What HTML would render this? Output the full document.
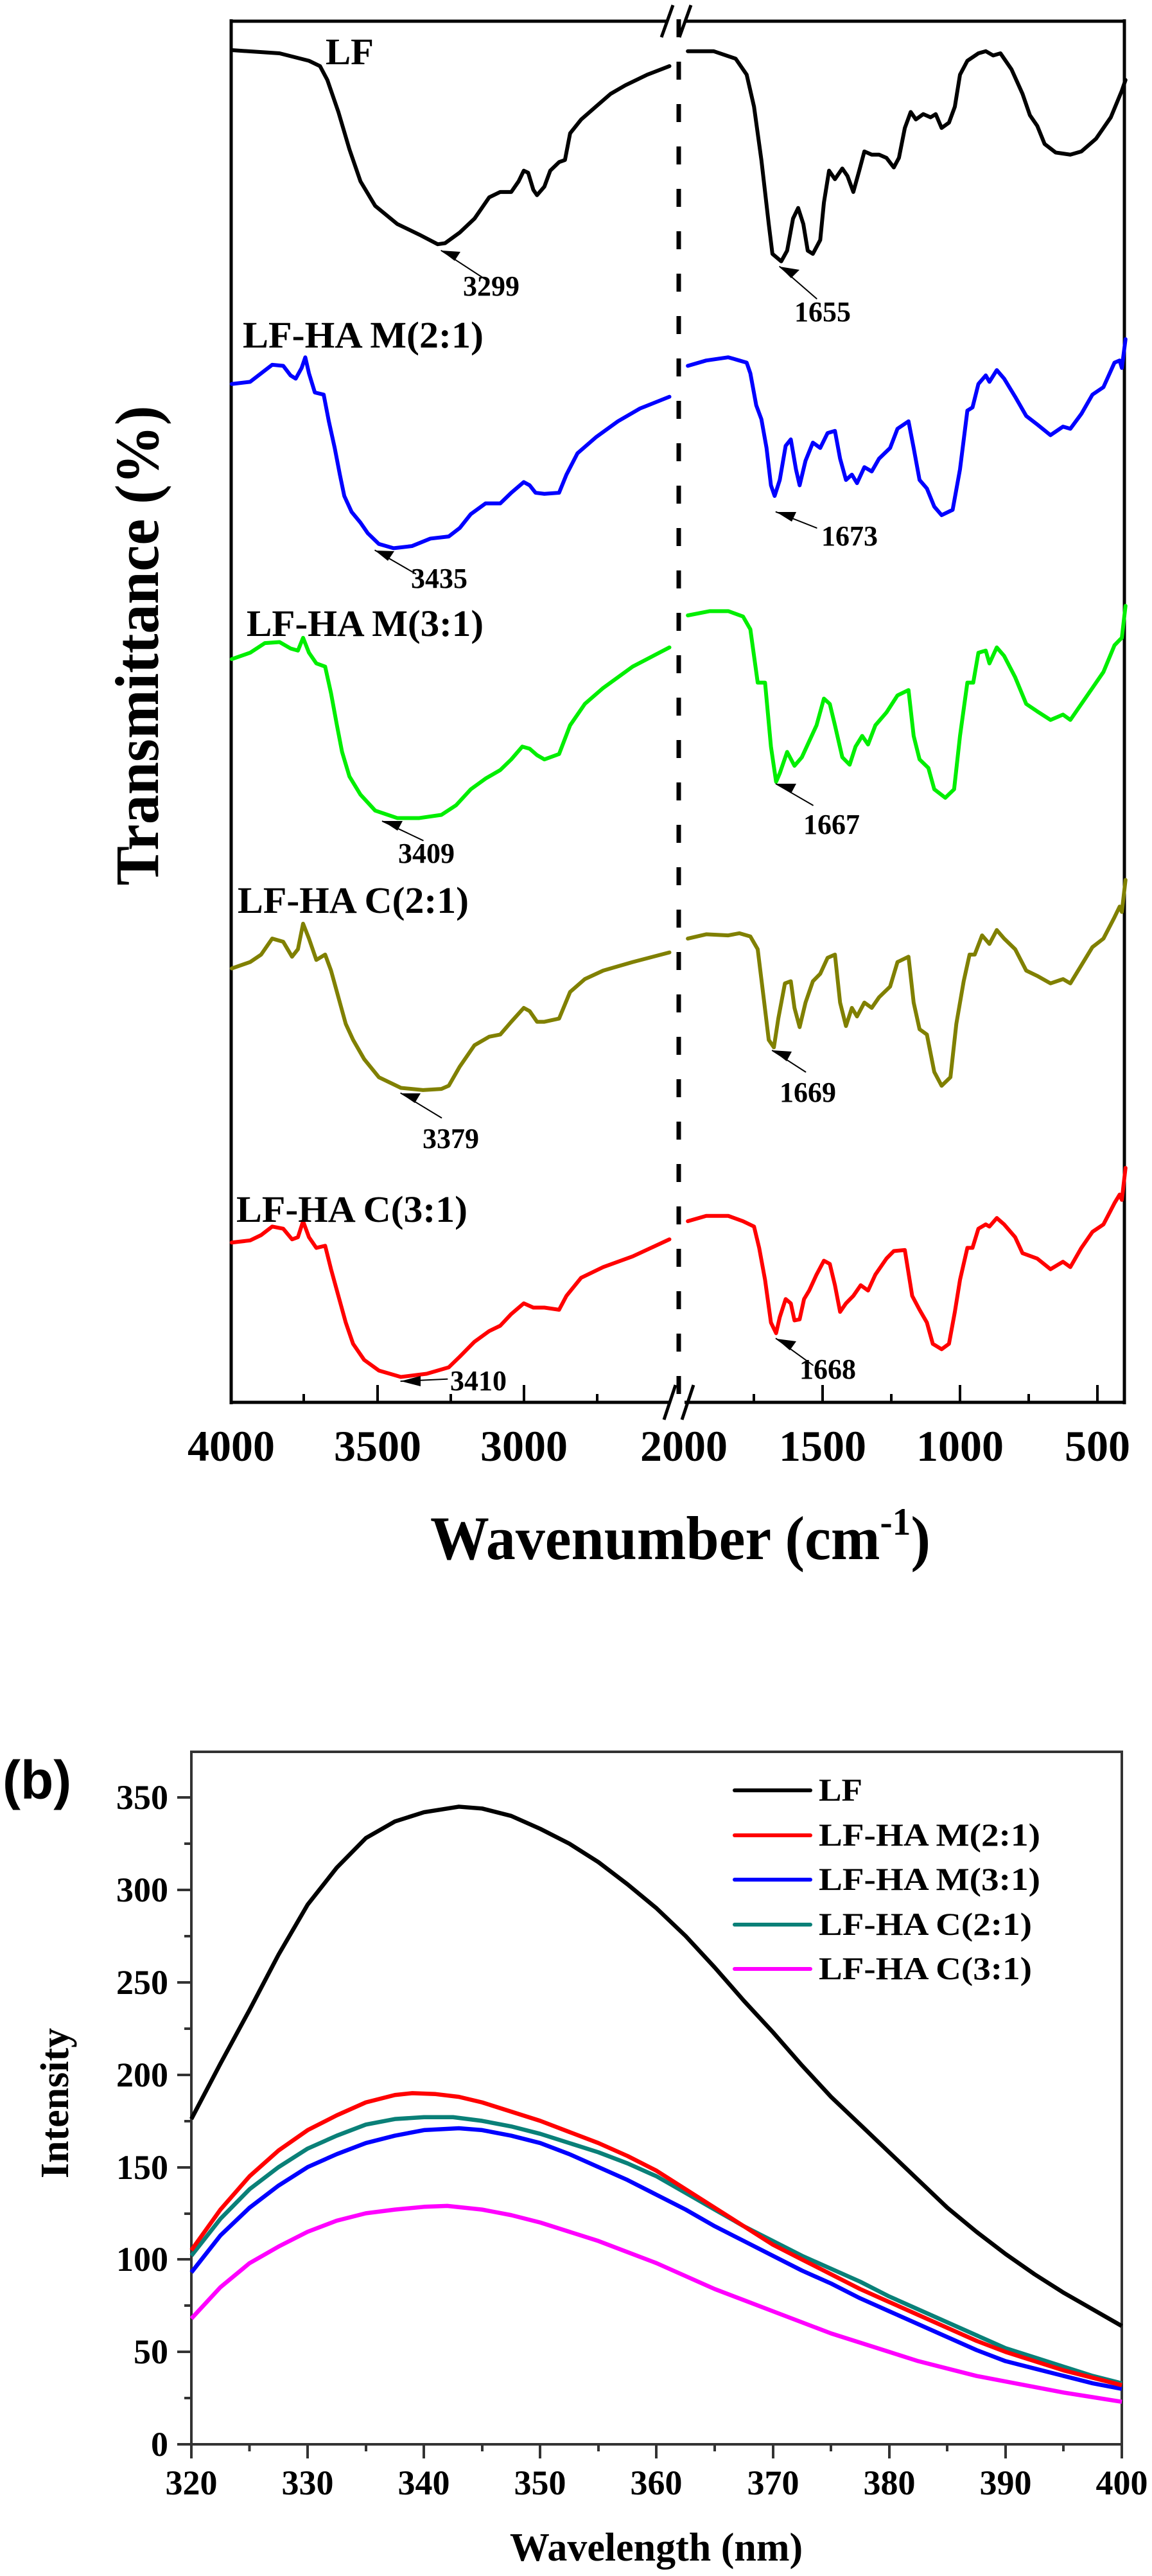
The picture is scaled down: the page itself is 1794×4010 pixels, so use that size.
<!DOCTYPE html>
<html><head><meta charset="utf-8"><style>
html,body{margin:0;padding:0;background:#fff}
svg{display:block}
svg text{font-family:"Liberation Serif","Times New Roman",serif;font-weight:bold}
</style></head><body>
<svg width="1794" height="4010" viewBox="0 0 1794 4010" xmlns="http://www.w3.org/2000/svg" font-family="Liberation Serif, serif" font-weight="bold">
<rect width="1794" height="4010" fill="#fff"/>

<!-- ========== TOP FTIR PLOT ========== -->
<g stroke="#000" stroke-width="5" fill="none">
  <line x1="360" y1="33" x2="1040" y2="33"/>
  <line x1="1068" y1="33" x2="1751" y2="33"/>
  <line x1="360" y1="30" x2="360" y2="2186"/>
  <line x1="1751" y1="30" x2="1751" y2="2186"/>
  <line x1="358" y1="2183" x2="1042" y2="2183"/>
  <line x1="1066" y1="2183" x2="1753" y2="2183"/>
</g>
<g stroke="#000" stroke-width="5" fill="none">
  <line x1="1030" y1="58" x2="1048" y2="8"/>
  <line x1="1058" y1="58" x2="1076" y2="8"/>
  <line x1="1034" y1="2210" x2="1052" y2="2156"/>
  <line x1="1062" y1="2210" x2="1080" y2="2156"/>
</g>
<line x1="1057" y1="30" x2="1057" y2="2183" stroke="#000" stroke-width="7" stroke-dasharray="28 38"/>
<g stroke="#000" stroke-width="4">
  <line x1="473" y1="2183" x2="473" y2="2170"/>
  <line x1="588" y1="2183" x2="588" y2="2156"/>
  <line x1="702" y1="2183" x2="702" y2="2170"/>
  <line x1="816" y1="2183" x2="816" y2="2156"/>
  <line x1="930" y1="2183" x2="930" y2="2170"/>
  <line x1="1174" y1="2183" x2="1174" y2="2170"/>
  <line x1="1281" y1="2183" x2="1281" y2="2156"/>
  <line x1="1388" y1="2183" x2="1388" y2="2170"/>
  <line x1="1495" y1="2183" x2="1495" y2="2156"/>
  <line x1="1602" y1="2183" x2="1602" y2="2170"/>
  <line x1="1709" y1="2183" x2="1709" y2="2156"/>
</g>
<g font-size="68" text-anchor="middle">
  <text x="360" y="2274">4000</text>
  <text x="588" y="2274">3500</text>
  <text x="816" y="2274">3000</text>
  <text x="1065" y="2274">2000</text>
  <text x="1281" y="2274">1500</text>
  <text x="1495" y="2274">1000</text>
  <text x="1709" y="2274">500</text>
</g>
<text x="670" y="2427" font-size="96" textLength="779" lengthAdjust="spacingAndGlyphs">Wavenumber (cm<tspan font-size="60" dy="-38">-1</tspan><tspan dy="38">)</tspan></text>
<text transform="translate(246,1005) rotate(-90)" text-anchor="middle" font-size="96" textLength="747" lengthAdjust="spacingAndGlyphs">Transmittance (%)</text>

<g transform="scale(1.1456,1.6603)" fill="none" stroke-width="6" stroke-linejoin="round" stroke-linecap="round">
 <g stroke="#000">
  <polyline vector-effect="non-scaling-stroke" points="315,47 380,50 420,57 435,62 445,75 460,105 475,140 490,170 510,193 540,210 570,220 595,229 605,228 625,218 645,205 665,185 680,180 695,180 705,170 712,160 718,162 725,178 730,183 740,175 748,160 760,152 768,150 775,125 790,112 810,100 830,88 850,80 880,70 910,62"/>
  <polyline vector-effect="non-scaling-stroke" points="935,48 970,48 1000,55 1015,70 1025,100 1035,150 1045,210 1050,238 1062,245 1070,235 1078,205 1085,195 1092,210 1098,235 1105,238 1115,225 1120,190 1127,160 1135,168 1145,158 1152,165 1160,180 1168,160 1175,142 1185,145 1195,145 1205,148 1215,157 1222,148 1230,120 1238,105 1245,112 1255,107 1265,110 1272,107 1280,120 1290,115 1298,100 1305,70 1315,57 1330,50 1340,48 1350,52 1360,50 1375,65 1390,88 1400,108 1410,118 1420,135 1435,143 1455,145 1470,142 1490,130 1510,110 1525,85 1530,75"/>
 </g>
 <g stroke="#0000ff">
  <polyline vector-effect="non-scaling-stroke" points="315,360 340,358 355,350 370,342 385,343 395,352 402,355 410,345 415,335 420,350 428,368 440,370 447,395 455,420 462,445 468,465 478,480 490,490 500,500 515,510 535,514 560,512 585,505 610,503 625,495 640,482 660,472 680,472 695,462 712,452 720,455 728,462 740,463 760,462 770,445 785,425 810,410 840,395 870,383 910,372"/>
  <polyline vector-effect="non-scaling-stroke" points="935,343 960,338 990,335 1005,338 1015,340 1020,350 1028,380 1035,393 1042,420 1048,455 1053,465 1060,450 1068,418 1075,412 1082,440 1087,455 1095,432 1105,415 1115,420 1125,406 1135,404 1142,430 1150,450 1158,445 1165,453 1175,438 1185,442 1195,430 1210,420 1220,402 1235,395 1242,420 1250,450 1260,458 1270,475 1280,483 1295,478 1305,440 1315,385 1322,382 1330,360 1340,352 1345,358 1355,347 1365,355 1380,372 1395,390 1410,398 1428,408 1445,400 1455,402 1470,388 1485,370 1500,363 1515,340 1522,338 1525,345 1530,318"/>
 </g>
 <g stroke="#00ee00">
  <polyline vector-effect="non-scaling-stroke" points="315,618 340,612 360,603 380,602 395,608 405,610 412,598 420,612 430,622 442,625 450,650 458,680 465,705 475,728 490,745 510,760 540,767 570,767 600,764 620,755 640,740 660,730 680,722 695,712 710,700 720,702 730,708 740,712 760,707 775,680 795,660 820,645 860,625 910,607"/>
  <polyline vector-effect="non-scaling-stroke" points="935,577 965,573 990,573 1010,578 1020,590 1030,640 1040,640 1048,700 1055,733 1060,725 1070,705 1080,718 1090,710 1100,695 1110,680 1120,655 1128,660 1135,680 1145,710 1155,717 1163,700 1172,690 1180,698 1190,680 1205,668 1220,652 1235,647 1242,690 1250,712 1262,720 1270,740 1285,748 1297,740 1305,690 1315,640 1323,640 1330,612 1340,610 1345,622 1355,607 1365,615 1380,635 1395,660 1410,667 1428,675 1445,670 1455,675 1470,660 1485,645 1500,630 1515,605 1522,600 1525,598 1530,568"/>
 </g>
 <g stroke="#808000">
  <polyline vector-effect="non-scaling-stroke" points="315,908 340,902 355,895 370,880 385,883 397,897 405,890 412,866 420,880 430,900 442,895 450,910 460,935 470,960 480,975 495,993 515,1010 545,1020 575,1022 600,1021 610,1018 625,1000 645,980 665,972 680,970 695,958 712,945 720,948 730,958 740,958 760,955 775,930 795,918 820,910 860,902 910,893"/>
  <polyline vector-effect="non-scaling-stroke" points="935,880 960,876 990,877 1005,875 1020,878 1030,890 1038,935 1045,975 1052,982 1058,955 1067,922 1075,920 1080,945 1087,963 1095,940 1105,920 1115,913 1125,898 1135,895 1142,940 1150,962 1158,945 1165,953 1175,940 1185,945 1195,935 1210,925 1220,902 1235,897 1242,940 1250,965 1260,970 1270,1005 1280,1018 1292,1010 1300,960 1310,920 1318,895 1325,895 1335,877 1345,885 1355,872 1365,880 1380,890 1395,910 1410,915 1428,922 1445,918 1455,922 1470,905 1485,888 1500,880 1515,860 1522,850 1525,855 1530,825"/>
 </g>
 <g stroke="#ff0000">
  <polyline vector-effect="non-scaling-stroke" points="315,1165 340,1163 355,1158 370,1150 385,1152 397,1162 405,1160 412,1145 420,1160 430,1170 442,1168 450,1190 460,1215 470,1240 480,1260 495,1275 515,1285 545,1291 580,1288 610,1282 625,1272 645,1258 665,1248 680,1243 695,1232 712,1222 725,1226 740,1226 760,1228 770,1215 790,1198 820,1188 860,1178 910,1162"/>
  <polyline vector-effect="non-scaling-stroke" points="935,1145 960,1140 990,1140 1010,1145 1025,1150 1032,1170 1040,1200 1048,1240 1055,1250 1060,1235 1068,1218 1075,1222 1080,1238 1087,1237 1093,1218 1100,1210 1110,1195 1120,1182 1128,1185 1135,1205 1142,1230 1150,1222 1160,1215 1170,1205 1180,1210 1190,1195 1205,1180 1215,1173 1230,1172 1240,1215 1250,1228 1260,1240 1268,1260 1280,1265 1290,1260 1298,1230 1305,1200 1315,1170 1322,1170 1330,1152 1340,1148 1345,1150 1355,1142 1365,1148 1380,1160 1390,1175 1410,1180 1428,1190 1445,1183 1455,1188 1470,1170 1485,1155 1500,1148 1515,1128 1522,1120 1525,1125 1530,1095"/>
 </g>
 <g stroke="#000" stroke-width="2">
  <line vector-effect="non-scaling-stroke" x1="600" y1="235" x2="660" y2="262"/>
  <line vector-effect="non-scaling-stroke" x1="1060" y1="250" x2="1110" y2="280"/>
  <line vector-effect="non-scaling-stroke" x1="510" y1="516" x2="565" y2="538"/>
  <line vector-effect="non-scaling-stroke" x1="1055" y1="480" x2="1110" y2="495"/>
  <line vector-effect="non-scaling-stroke" x1="520" y1="770" x2="575" y2="788"/>
  <line vector-effect="non-scaling-stroke" x1="1055" y1="735" x2="1105" y2="755"/>
  <line vector-effect="non-scaling-stroke" x1="545" y1="1025" x2="600" y2="1048"/>
  <line vector-effect="non-scaling-stroke" x1="1050" y1="985" x2="1095" y2="1005"/>
  <line vector-effect="non-scaling-stroke" x1="545" y1="1295" x2="608" y2="1293"/>
  <line vector-effect="non-scaling-stroke" x1="1055" y1="1255" x2="1105" y2="1280"/>
 </g>
</g>
<g fill="#000">
  <polygon points="687,390 717,392 708,406"/>
  <polygon points="1214,415 1245,420 1232,433"/>
  <polygon points="584,857 614,858 604,873"/>
  <polygon points="1209,797 1240,797 1233,812"/>
  <polygon points="596,1278 627,1278 619,1293"/>
  <polygon points="1209,1220 1240,1220 1232,1235"/>
  <polygon points="624,1702 655,1702 646,1717"/>
  <polygon points="1203,1635 1233,1637 1225,1652"/>
  <polygon points="624,2150 655,2142 655,2158"/>
  <polygon points="1209,2084 1240,2088 1230,2102"/>
</g>
<g font-size="44" text-anchor="middle">
  <text x="765" y="460">3299</text>
  <text x="1281" y="500">1655</text>
  <text x="684" y="915">3435</text>
  <text x="1323" y="849">1673</text>
  <text x="664" y="1343">3409</text>
  <text x="1295" y="1298">1667</text>
  <text x="702" y="1787">3379</text>
  <text x="1258" y="1715">1669</text>
  <text x="745" y="2164">3410</text>
  <text x="1289" y="2146">1668</text>
</g>
<g font-size="58">
  <text x="507" y="100" textLength="75" lengthAdjust="spacingAndGlyphs">LF</text>
  <text x="378" y="541" textLength="375" lengthAdjust="spacingAndGlyphs">LF-HA M(2:1)</text>
  <text x="384" y="990" textLength="369" lengthAdjust="spacingAndGlyphs">LF-HA M(3:1)</text>
  <text x="370" y="1421" textLength="360" lengthAdjust="spacingAndGlyphs">LF-HA C(2:1)</text>
  <text x="368" y="1902" textLength="360" lengthAdjust="spacingAndGlyphs">LF-HA C(3:1)</text>
</g>

<!-- ========== BOTTOM PLOT ========== -->
<text x="4" y="2800" font-size="84" font-family="Liberation Sans, sans-serif" style="font-family:'Liberation Sans',sans-serif">(b)</text>
<rect x="298" y="2727" width="1449" height="1078" fill="none" stroke="#333" stroke-width="4"/>
<g stroke="#333" stroke-width="4">
  <line x1="276" y1="3805" x2="298" y2="3805"/><line x1="287" y1="3733" x2="298" y2="3733"/>
  <line x1="276" y1="3661" x2="298" y2="3661"/><line x1="287" y1="3589" x2="298" y2="3589"/>
  <line x1="276" y1="3517" x2="298" y2="3517"/><line x1="287" y1="3446" x2="298" y2="3446"/>
  <line x1="276" y1="3374" x2="298" y2="3374"/><line x1="287" y1="3302" x2="298" y2="3302"/>
  <line x1="276" y1="3230" x2="298" y2="3230"/><line x1="287" y1="3158" x2="298" y2="3158"/>
  <line x1="276" y1="3086" x2="298" y2="3086"/><line x1="287" y1="3014" x2="298" y2="3014"/>
  <line x1="276" y1="2942" x2="298" y2="2942"/><line x1="287" y1="2870" x2="298" y2="2870"/>
  <line x1="276" y1="2798" x2="298" y2="2798"/>
  <line x1="298" y1="3805" x2="298" y2="3827"/><line x1="388.5" y1="3805" x2="388.5" y2="3816"/>
  <line x1="479" y1="3805" x2="479" y2="3827"/><line x1="570" y1="3805" x2="570" y2="3816"/>
  <line x1="660" y1="3805" x2="660" y2="3827"/><line x1="751" y1="3805" x2="751" y2="3816"/>
  <line x1="841" y1="3805" x2="841" y2="3827"/><line x1="932" y1="3805" x2="932" y2="3816"/>
  <line x1="1022" y1="3805" x2="1022" y2="3827"/><line x1="1113" y1="3805" x2="1113" y2="3816"/>
  <line x1="1204" y1="3805" x2="1204" y2="3827"/><line x1="1294" y1="3805" x2="1294" y2="3816"/>
  <line x1="1385" y1="3805" x2="1385" y2="3827"/><line x1="1475" y1="3805" x2="1475" y2="3816"/>
  <line x1="1566" y1="3805" x2="1566" y2="3827"/><line x1="1656" y1="3805" x2="1656" y2="3816"/>
  <line x1="1747" y1="3805" x2="1747" y2="3827"/>
</g>
<g font-size="54" text-anchor="end">
  <text x="262" y="3823">0</text><text x="262" y="3679">50</text>
  <text x="262" y="3535">100</text><text x="262" y="3392">150</text>
  <text x="262" y="3248">200</text><text x="262" y="3104">250</text>
  <text x="262" y="2960">300</text><text x="262" y="2816">350</text>
</g>
<g font-size="54" text-anchor="middle">
  <text x="298" y="3883">320</text><text x="479" y="3883">330</text>
  <text x="660" y="3883">340</text><text x="841" y="3883">350</text>
  <text x="1022" y="3883">360</text><text x="1204" y="3883">370</text>
  <text x="1385" y="3883">380</text><text x="1566" y="3883">390</text>
  <text x="1747" y="3883">400</text>
</g>
<text transform="translate(106,3274) rotate(-90)" text-anchor="middle" font-size="62">Intensity</text>
<text x="1022" y="3986" text-anchor="middle" font-size="62">Wavelength (nm)</text>

<g transform="translate(298,3805) scale(18.1125,-2.877) translate(-320,0)" fill="none" stroke-width="6.5" stroke-linejoin="round">
  <polyline vector-effect="non-scaling-stroke" stroke="#000" points="320,176 322.5,206 325,235 327.5,265 330,292 332.5,312 335,328 337.5,337 340,342 343,345 345,344 347.5,340 350,333 352.5,325 355,315 357.5,303 360,290 362.5,275 365,258 367.5,240 370,223 372.5,205 375,188 377.5,173 380,158 382.5,143 385,128 387.5,115 390,103 392.5,92 395,82 397.5,73 400,64"/>
  <polyline vector-effect="non-scaling-stroke" stroke="#0000ff" points="320,93 322.5,113 325,128 327.5,140 330,150 332.5,157 335,163 337.5,167 340,170 343,171 345,170 347.5,167 350,163 352.5,157 355,150 357.5,143 360,135 362.5,127 365,118 367.5,110 370,102 372.5,94 375,87 377.5,79 380,72 382.5,65 385,58 387.5,51 390,45 392.5,41 395,37 397.5,33 400,30"/>
  <polyline vector-effect="non-scaling-stroke" stroke="#0a8078" points="320,102 322.5,122 325,138 327.5,150 330,160 332.5,167 335,173 337.5,176 340,177 342.5,177 345,175 347.5,172 350,168 352.5,163 355,158 357.5,152 360,145 362.5,136 365,127 367.5,118 370,110 372.5,102 375,95 377.5,88 380,80 382.5,73 385,66 387.5,59 390,52 392.5,47 395,42 397.5,37 400,33"/>
  <polyline vector-effect="non-scaling-stroke" stroke="#ff0000" points="320,105 322.5,127 325,145 327.5,159 330,170 332.5,178 335,185 337.5,189 339,190 341,189.5 343,188 345,185 347.5,180 350,175 352.5,169 355,163 357.5,156 360,148 362.5,138 365,128 367.5,118 370,108 372.5,100 375,92 377.5,84 380,77 382.5,70 385,63 387.5,56 390,50 392.5,45 395,40 397.5,36 400,32"/>
  <polyline vector-effect="non-scaling-stroke" stroke="#ff00ff" points="320,68 322.5,85 325,98 327.5,107 330,115 332.5,121 335,125 337.5,127 340,128.5 342,129 345,127 347.5,124 350,120 352.5,115 355,110 357.5,104 360,98 362.5,91 365,84 367.5,78 370,72 372.5,66 375,60 377.5,55 380,50 382.5,45 385,41 387.5,37 390,34 392.5,31 395,28 397.5,25.5 400,23"/>
</g>
<g stroke-width="6" stroke-linecap="round">
  <line x1="1144" y1="2787" x2="1262" y2="2787" stroke="#000"/>
  <line x1="1144" y1="2857" x2="1262" y2="2857" stroke="#ff0000"/>
  <line x1="1144" y1="2926" x2="1262" y2="2926" stroke="#0000ff"/>
  <line x1="1144" y1="2996" x2="1262" y2="2996" stroke="#0a8078"/>
  <line x1="1144" y1="3065" x2="1262" y2="3065" stroke="#ff00ff"/>
</g>
<g font-size="50">
  <text x="1275" y="2803" textLength="68" lengthAdjust="spacingAndGlyphs">LF</text>
  <text x="1275" y="2873" textLength="345" lengthAdjust="spacingAndGlyphs">LF-HA M(2:1)</text>
  <text x="1275" y="2942" textLength="345" lengthAdjust="spacingAndGlyphs">LF-HA M(3:1)</text>
  <text x="1275" y="3012" textLength="332" lengthAdjust="spacingAndGlyphs">LF-HA C(2:1)</text>
  <text x="1275" y="3081" textLength="332" lengthAdjust="spacingAndGlyphs">LF-HA C(3:1)</text>
</g>
</svg>
</body></html>
